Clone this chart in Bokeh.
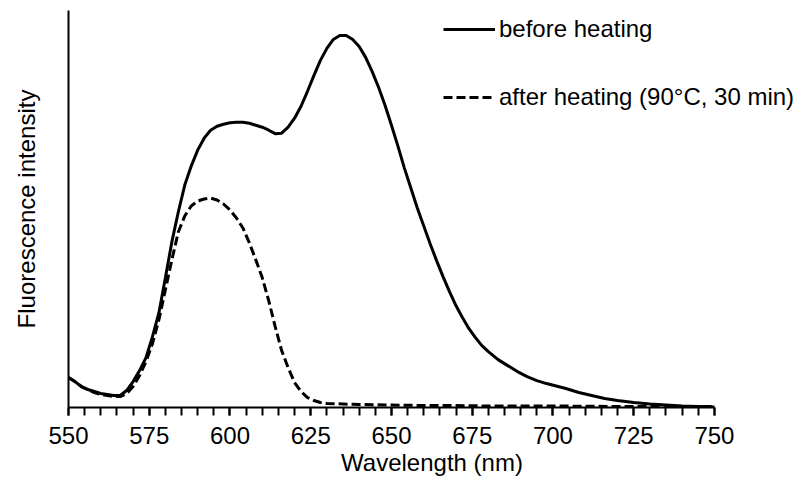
from bokeh.plotting import figure
from bokeh.models import Range1d, SingleIntervalTicker, FixedTicker, Legend, LegendItem
from bokeh.embed import file_html
from bokeh.resources import INLINE

# Wavelength (nm) and fluorescence intensity (arbitrary units)
wl_before = [550, 552, 554, 556, 558, 560, 562, 564, 566, 568, 570, 572, 574, 576, 578,
             580, 582, 584, 586, 588, 590, 592, 594, 596, 598, 600, 602, 604, 606, 608,
             610, 612, 614, 616, 618, 620, 622, 624, 626, 628, 630, 632, 634, 636, 638,
             640, 642, 644, 646, 648, 650, 652, 654, 656, 658, 660, 662, 664, 666, 668,
             670, 672, 674, 676, 678, 680, 683, 686, 689, 692, 695, 698, 701, 704, 708,
             712, 716, 720, 725, 730, 735, 740, 745, 750]
int_before = [30, 26, 21, 18, 16, 14, 13, 12, 12, 17, 26, 37, 50, 71, 95,
              130, 166, 196, 223, 242, 258, 270, 278, 282, 284, 285.5, 286, 286, 285, 283,
              281, 278, 274.5, 275, 281, 290, 302, 317, 333, 348, 360, 369, 373, 373, 369,
              362, 351, 337, 321, 303, 283, 262, 240, 220, 200, 182, 164, 147, 131, 116,
              102, 90, 79, 70, 62, 56, 48, 42, 36, 31, 27, 24, 21.5, 19, 15,
              12, 9, 7, 5, 3.5, 2.5, 1.5, 1, 0.5]

wl_after = [550, 552, 554, 556, 558, 560, 562, 564, 566, 568, 570, 572, 574, 576, 578,
            580, 582, 584, 586, 588, 590, 592, 594, 596, 598, 600, 602, 604, 606, 608,
            610, 612, 614, 616, 618, 620, 622, 624, 626, 628, 630, 635, 640, 650, 660,
            670, 680, 700, 720, 750]
int_after = [30, 26, 21, 18, 15, 13, 12, 11, 11, 14, 21, 32, 46, 64, 88,
             118, 148, 176, 192, 202, 207, 209, 210, 208, 204, 198, 190, 180, 165, 148,
             130, 107, 81, 57, 40, 25, 16, 10, 7, 5, 4, 3.5, 3, 2.5, 2,
             2, 1.5, 1.5, 1, 1]

series_labels = ["before heating", "after heating (90°C, 30 min)"]
x_label = "Wavelength (nm)"
y_label = "Fluorescence intensity"
x_start, x_end = 550, 750

FONT = "Liberation Sans"

# frame extends past 750 nm so the legend has room; the axis itself stops at 750
p = figure(width=795, height=478, output_backend="svg", toolbar_location=None,
           x_range=Range1d(x_start, 775.1), y_range=Range1d(0, 398),
           min_border_left=68, min_border_right=0, min_border_top=10, min_border_bottom=70)
p.outline_line_color = None
p.grid.visible = False
p.background_fill_color = "white"
p.border_fill_color = "white"

r1 = p.line(wl_before, int_before, line_color="black", line_width=3)
r2 = p.line(wl_after, int_after, line_color="black", line_width=3, line_dash="9 4")

xa = p.xaxis[0]
xa.bounds = (x_start, x_end)
xa.ticker = SingleIntervalTicker(interval=25, num_minor_ticks=5)
xa.axis_line_width = 2
xa.major_tick_line_width = 2
xa.minor_tick_line_width = 2
xa.major_tick_in = 0
xa.major_tick_out = 8
xa.minor_tick_in = 0
xa.minor_tick_out = 8
xa.major_label_text_font = FONT
xa.major_label_text_font_size = "24px"
xa.major_label_text_color = "black"
xa.major_label_standoff = 11
xa.axis_label = x_label
xa.axis_label_text_font = FONT
xa.axis_label_text_font_size = "24px"
xa.axis_label_text_font_style = "normal"
xa.axis_label_text_color = "black"
xa.axis_label_standoff = 2

ya = p.yaxis[0]
ya.ticker = FixedTicker(ticks=[])
ya.axis_line_width = 2
ya.major_tick_in = 0
ya.major_tick_out = 0
ya.minor_tick_in = 0
ya.minor_tick_out = 0
ya.axis_label = y_label
ya.axis_label_text_font = FONT
ya.axis_label_text_font_size = "24px"
ya.axis_label_text_font_style = "normal"
ya.axis_label_text_color = "black"
ya.axis_label_standoff = 29

legend = Legend(items=[LegendItem(label=series_labels[0], renderers=[r1]),
                       LegendItem(label=series_labels[1], renderers=[r2])],
                location=(375, 296), orientation="vertical",
                glyph_width=52, glyph_height=28, label_height=28, spacing=40,
                label_standoff=4, padding=0, margin=0,
                label_text_font=FONT, label_text_font_size="24px", label_text_color="black",
                border_line_alpha=0, background_fill_alpha=0)
p.add_layout(legend, "center")

open("out.html", "w").write(file_html(p, INLINE))
